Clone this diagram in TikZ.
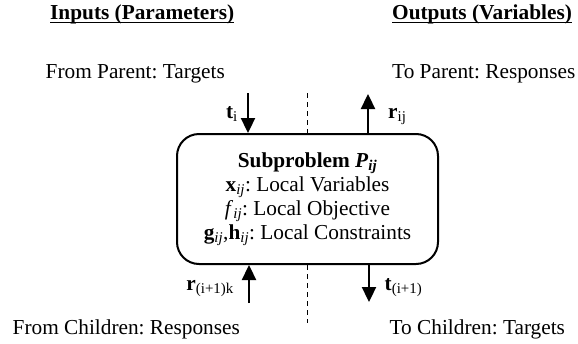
\documentclass[tikz,border=0pt]{standalone}
\usepackage{fontspec}
\setmainfont{Liberation Serif}
\usetikzlibrary{arrows.meta}
\frenchspacing

\tikzset{
  txt/.style={inner sep=0pt, font=\fontsize{21.3}{24.5}\selectfont},
  head/.style={txt, font=\fontsize{21.3}{24.5}\selectfont\bfseries},
  subbox/.style={draw, line width=2pt, rounded corners=22pt,
    minimum width=261pt, minimum height=130pt, inner sep=0pt,
    align=center, font=\fontsize{21.3}{24}\selectfont},
  flow/.style={line width=2.3pt, -{Triangle[length=15pt,width=14pt]}},
  divider/.style={line width=1.6pt, dash pattern=on 5pt off 4pt},
  uline/.style={line width=1.5pt}
}

\begin{document}
\begin{tikzpicture}[x=1pt, y=-1pt]
  \useasboundingbox (0,0) rectangle (578,343);

  % column headings
  \node[head, anchor=base west] (hin) at (50,19) {Inputs (Parameters)};
  \node[head, anchor=base west] (hout) at (392,19) {Outputs (Variables)};
  \draw[uline] ([yshift=-3.7pt]hin.base west) -- ([yshift=-3.7pt]hin.base east);
  \draw[uline] ([yshift=-3.7pt]hout.base west) -- ([yshift=-3.7pt]hout.base east);

  % parent / children captions
  \node[txt, anchor=base west] (fp) at (45.5,78) {From Parent: Targets};
  \node[txt, anchor=base west] (tp) at (392,78) {To Parent: Responses};
  \node[txt, anchor=base west] (fc) at (12.5,334) {From Children: Responses};
  \node[txt, anchor=base west] (tc) at (389.5,334) {To Children: Targets};

  % the subproblem
  \node[subbox] (sub) at (307.5,199) {%
    \textbf{Subproblem \textit{P}\textsubscript{\textit{ij}}}\\
    \textbf{x}\textsubscript{\textit{ij}}: Local Variables\\
    \textit{f}\textsubscript{\textit{ij}}: Local Objective\\
    \textbf{g}\textsubscript{\textit{ij}},\textbf{h}\textsubscript{\textit{ij}}: Local Constraints};

  % free ends of the flows and of the divider
  \coordinate (tin)  at (248,93);
  \coordinate (rout) at (368,94);
  \coordinate (rin)  at (249,303);
  \coordinate (tout) at (369,302);
  \coordinate (dtop) at (307.5,93);
  \coordinate (dbot) at (307.5,323);

  % flows
  \draw[flow] (tin) -- (tin |- sub.north);
  \draw[flow] (rout |- sub.north) -- (rout);
  \draw[flow] (rin) -- (rin |- sub.south);
  \draw[flow] (tout |- sub.south) -- (tout);

  % divider between inputs and outputs
  \draw[divider] (dtop) -- (dtop |- sub.north);
  \draw[divider] (dbot |- sub.south) -- (dbot);

  % flow labels
  \node[txt, anchor=base east] (lti) at (238,118) {\textbf{t}\textsubscript{i}};
  \node[txt, anchor=base west] (lrij) at (388,118) {\textbf{r}\textsubscript{ij}};
  \node[txt, anchor=base east] (lrk) at (234,290) {\textbf{r}\textsubscript{(i+1)k}};
  \node[txt, anchor=base west] (ltk) at (384.5,290) {\textbf{t}\textsubscript{(i+1)}};
\end{tikzpicture}
\end{document}
